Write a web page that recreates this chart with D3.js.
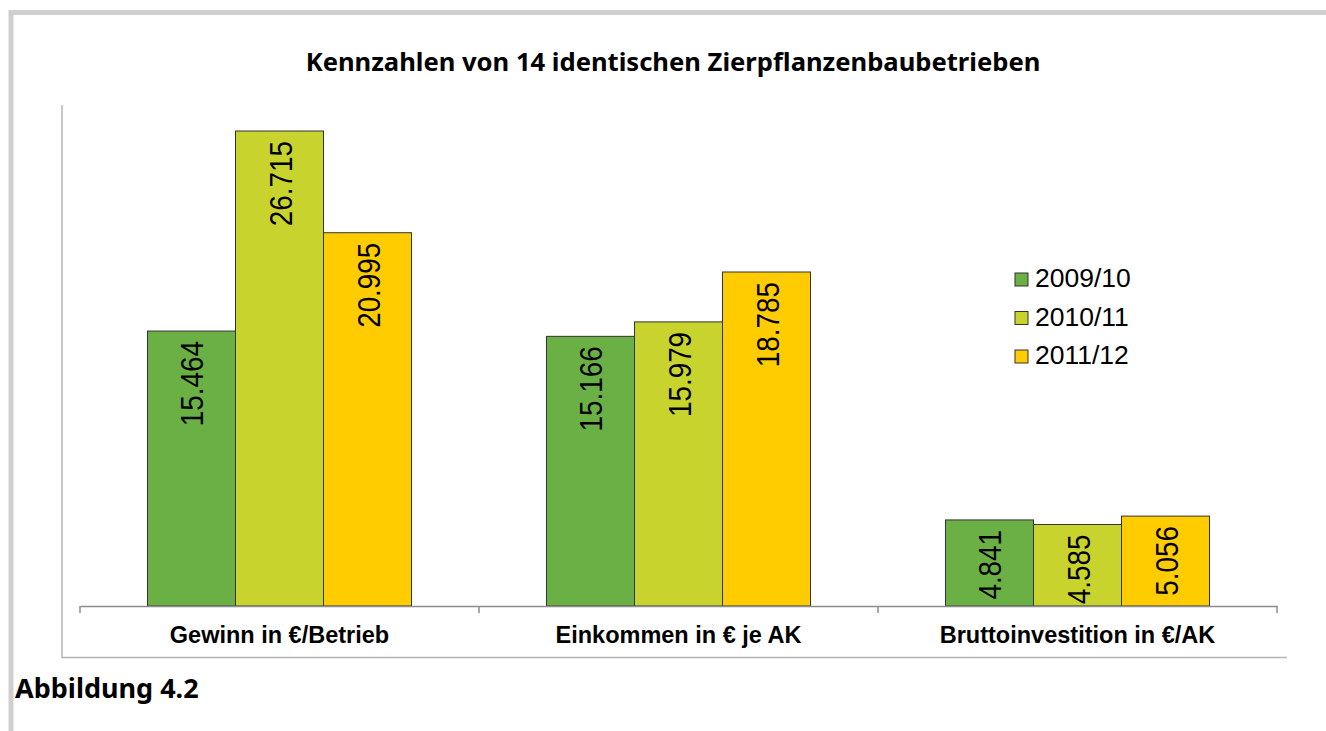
<!DOCTYPE html>
<html>
<head>
<meta charset="utf-8">
<script src="https://cdn.jsdelivr.net/npm/d3@7"></script>
<style>
  body { margin: 0; background: #fff; }
  svg { display: block; }
</style>
</head>
<body>
<svg id="chart"></svg>
<script>
const categories = ['Gewinn in €/Betrieb', 'Einkommen in € je AK', 'Bruttoinvestition in €/AK'];
const seriesNames = ['2009/10', '2010/11', '2011/12'];
const v2009 = [15.464, 15.166, 4.841];
const v2010 = [26.715, 15.979, 4.585];
const v2011 = [20.995, 18.785, 5.056];
const colors = ['#6ab045', '#c8d42d', '#ffcc00'];

const allSeries = [v2009, v2010, v2011];
const W = 1326, H = 731;
const svg = d3.select('#chart').attr('width', W).attr('height', H);

// outer frame
svg.append('path')
  .attr('d', `M11,${H} V12.5 H${W}`)
  .attr('fill', 'none')
  .attr('stroke', '#cfcfcf')
  .attr('stroke-width', 5);

// chart area frame (left + bottom)
svg.append('path')
  .attr('d', `M62,105 V657.5 H1287`)
  .attr('fill', 'none')
  .attr('stroke', '#b5b5b5')
  .attr('stroke-width', 1.5);

svg.append('text')
  .attr('x', 673).attr('y', 71)
  .attr('text-anchor', 'middle')
  .attr('font-family', 'Noto Sans')
  .attr('font-weight', 'bold')
  .attr('font-size', 25.6)
  .text('Kennzahlen von 14 identischen Zierpflanzenbaubetrieben');

svg.append('text')
  .attr('x', 15).attr('y', 698)
  .attr('font-family', 'Noto Sans')
  .attr('font-weight', 'bold')
  .attr('font-size', 27)
  .text('Abbildung 4.2');

const x0 = d3.scaleBand().domain(categories).range([80, 1277]).paddingInner(0).paddingOuter(0);
const x1 = d3.scaleBand().domain(seriesNames).range([0, x0.bandwidth()]).paddingInner(0).paddingOuter(0.767);
const y = d3.scaleLinear().domain([0, 30]).range([606, 72.6]);

const g = svg.append('g');
categories.forEach((cat, ci) => {
  seriesNames.forEach((s, si) => {
    const val = allSeries[si][ci];
    const bx = x0(cat) + x1(s);
    g.append('rect')
      .attr('x', bx)
      .attr('y', y(val))
      .attr('width', x1.bandwidth())
      .attr('height', y(0) - y(val))
      .attr('fill', colors[si])
      .attr('stroke', '#333')
      .attr('stroke-width', 1);
    const tx = bx + x1.bandwidth() / 2;
    const ty = y(val) + 10;
    g.append('text')
      .attr('transform', `translate(${tx + 12},${ty}) rotate(-90) scale(0.87,1)`)
      .attr('text-anchor', 'end')
      .attr('font-family', 'Liberation Sans, Arial, sans-serif')
      .attr('font-size', 32)
      .attr('fill', '#000')
      .text(val.toFixed(3));
  });
});

// axis
const axis = svg.append('g')
  .attr('transform', 'translate(0,606)')
  .call(d3.axisBottom(x0).tickSize(0).tickFormat(''));
axis.select('.domain').attr('stroke', '#8c8c8c').attr('stroke-width', 1.5);
const boundaries = [...categories.map(c => x0(c)), x0.range()[1]];
axis.selectAll('.bound').data(boundaries).enter().append('line')
  .attr('x1', d => d).attr('x2', d => d)
  .attr('y1', 0).attr('y2', 7)
  .attr('stroke', '#8c8c8c').attr('stroke-width', 1.5);

svg.selectAll('.cat').data(categories).enter().append('text')
  .attr('x', d => x0(d) + x0.bandwidth() / 2)
  .attr('y', 643)
  .attr('text-anchor', 'middle')
  .attr('font-family', 'Liberation Sans, Arial, sans-serif')
  .attr('font-weight', 'bold')
  .attr('font-size', 23.5)
  .text(d => d);

// legend
const leg = svg.append('g').attr('transform', 'translate(1015,273)');
seriesNames.forEach((s, i) => {
  leg.append('rect')
    .attr('x', 0).attr('y', i * 38.5)
    .attr('width', 13).attr('height', 13)
    .attr('fill', colors[i]).attr('stroke', '#333').attr('stroke-width', 1);
  leg.append('text')
    .attr('x', 20).attr('y', i * 38.5 + 14)
    .attr('font-family', 'Liberation Sans, Arial, sans-serif')
    .attr('font-size', 26.5)
    .text(s);
});
</script>
</body>
</html>
